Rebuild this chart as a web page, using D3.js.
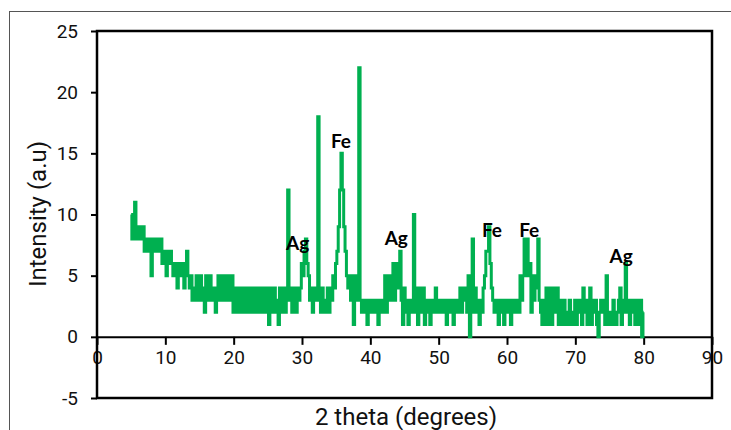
<!DOCTYPE html>
<html>
<head>
<meta charset="utf-8">
<script src="https://cdn.jsdelivr.net/npm/d3@7"></script>
<style>
  body { margin: 0; background: #fff; }
  .axis text { font-family: Roboto, "Liberation Sans", sans-serif; font-size: 19px; fill: #111; }
  .axis line, .axis path { stroke: #000; stroke-width: 2; }
  .title { font-family: Roboto, "Liberation Sans", sans-serif; font-size: 24px; fill: #111; }
  .peak { font-family: Lato, "Open Sans", sans-serif; font-weight: bold; font-size: 19px; fill: #000; }
</style>
</head>
<body>
<svg id="chart"></svg>
<script>
// intensity readings, 0.2 degree steps, one array per 10 degrees
const step = 0.2;
const segStarts = [5, 10, 20, 30, 40, 50, 60, 70];
const seg05 = [10,8,10,11,8, 9,8,9,8,9, 7,8,7,8,7, 5,8,7,8,7, 8,7,8,6,7];
const seg10 = [6,5,7,6,7, 6,5,6,5,4, 6,5,6,5,4, 6,7,5,4,5, 3,4,3,5,3, 4,5,3,4,2, 5,3,4,5,3, 4,3,2,4,5, 3,4,5,3,5, 3,4,5,3,5];
const seg20 = [2,4,2,3,4, 2,4,2,3,4, 2,4,2,4,3, 2,4,2,4,2, 3,4,2,4,2, 4,1,3,4,2, 4,2,3,1,4, 2,4,3,2,4, 12,3,4,2,4, 3,2,4,3,4];
const seg30 = [6,5,7,8,6, 5,3,4,2,4, 3,4,18,3,2, 4,2,3,2,4, 2,4,3,5,4, 6,7,9,12,15, 12,9,7,5,4, 5,3,5,1,4, 5,3,22,3,2, 3,2,3,1,3];
const seg40 = [2,3,2,3,2, 3,1,3,2,3, 2,5,2,3,5, 3,4,6,3,5, 6,4,7,3,1, 4,2,3,1,3, 2,3,10,2,4, 1,3,4,2,4, 1,3,2,3,1, 2,3,2,4,2];
const seg50 = [3,2,3,2,3, 2,1,3,2,3, 2,1,3,2,3, 2,4,2,4,3, 4,2,5,0,4, 8,2,4,2,3, 1,3,2,4,5, 7,7,9,6,4, 3,2,3,2,1, 3,2,3,1,3];
const seg60 = [2,3,2,1,3, 2,3,2,3,2, 5,3,5,8,5, 8,5,6,2,5, 3,5,4,8,3, 2,1,3,1,4, 1,3,4,1,4, 2,3,4,1,3, 1,2,3,1,2, 1,3,1,2,1];
const seg70 = [3,1,3,2,3, 1,4,2,3,1, 3,4,1,3,2, 3,1,0,2,3, 2,3,1,5,2, 1,2,1,3,2, 1,2,3,4,1, 3,2,6,2,3, 1,3,2,3,1, 3,1,2,3,0, 2];

const xTicks = [0, 10, 20, 30, 40, 50, 60, 70, 80, 90];
const yTicks = [-5, 0, 5, 10, 15, 20, 25];

const peakLabels = [
  { text: "Ag", x: 29.35, y: 7.1 },
  { text: "Fe", x: 35.7, y: 15.4 },
  { text: "Ag", x: 43.8, y: 7.5 },
  { text: "Fe", x: 57.8, y: 8.2 },
  { text: "Fe", x: 63.25, y: 8.2 },
  { text: "Ag", x: 76.7, y: 6.05 }
];

const segs = [seg05, seg10, seg20, seg30, seg40, seg50, seg60, seg70];
let trace = [];
segs.forEach((s, k) => {
  s.forEach((v, i) => trace.push({ angle: segStarts[k] + i * step, value: v }));
});

const W = 731, H = 430;
const margin = { top: 31, right: 19, bottom: 32, left: 97 };
const width = W - margin.left - margin.right;
const height = H - margin.top - margin.bottom;

const svg = d3.select("#chart").attr("width", W).attr("height", H);

// outer frame
svg.append("rect")
  .attr("x", 9.5).attr("y", 11.5)
  .attr("width", 800).attr("height", 500)
  .attr("fill", "none").attr("stroke", "#555").attr("stroke-width", 1);

const g = svg.append("g").attr("transform", `translate(${margin.left},${margin.top})`);

const x = d3.scaleLinear().domain([0, 90]).range([0, width]);
const y = d3.scaleLinear().domain([-5, 25]).range([height, 0]);

const yAxis = g.append("g").attr("class", "axis")
  .call(d3.axisLeft(y).tickValues(yTicks).tickFormat(d => String(d)).tickSize(6).tickPadding(13));
yAxis.select(".domain").remove();

g.append("g").attr("class", "axis")
  .attr("transform", `translate(0,${y(0)})`)
  .call(d3.axisBottom(x).tickValues(xTicks).tickFormat(d => String(d)).tickSize(8).tickPadding(6).tickSizeOuter(0));

g.append("rect")
  .attr("width", width).attr("height", height)
  .attr("fill", "none").attr("stroke", "#000").attr("stroke-width", 2.5);

const line = d3.line()
  .x(d => x(d.angle))
  .y(d => y(d.value))
  .curve(d3.curveStep);

g.append("path")
  .datum(trace)
  .attr("d", line)
  .attr("fill", "none")
  .attr("stroke", "#00b050")
  .attr("stroke-width", 3);

g.selectAll(".peak")
  .data(peakLabels)
  .enter().append("text")
  .attr("class", "peak")
  .attr("x", d => x(d.x))
  .attr("y", d => y(d.y))
  .attr("text-anchor", "middle")
  .text(d => d.text);

svg.append("text").attr("class", "title")
  .attr("transform", "translate(46,214) rotate(-90)")
  .attr("text-anchor", "middle")
  .text("Intensity (a.u)");

svg.append("text").attr("class", "title")
  .attr("x", 406).attr("y", 425)
  .attr("text-anchor", "middle")
  .text("2 theta (degrees)");
</script>
</body>
</html>
